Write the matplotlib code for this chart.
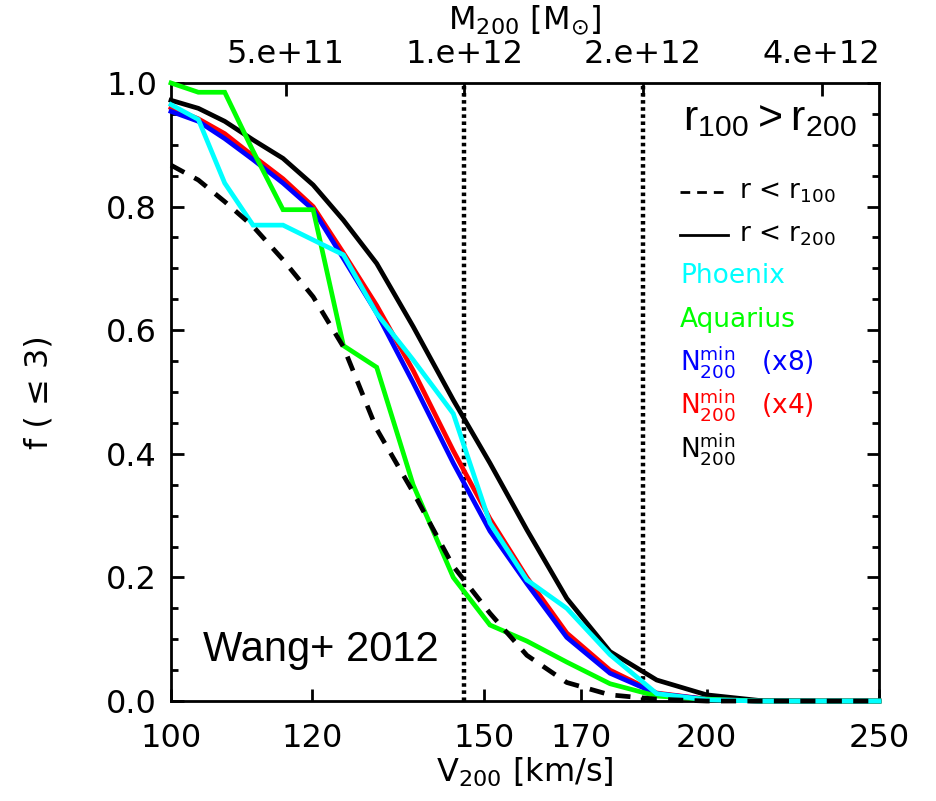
import matplotlib.pyplot as plt
import numpy as np
from matplotlib.ticker import NullLocator, FixedLocator

# V200 bins [km/s] and fractions
v200 = [100.0, 103.6, 107.2, 111.2, 115.6, 120.2, 125.0, 130.5, 136.8, 144.1,
        151.1, 158.5, 166.9, 176.5, 187.5, 200.0, 214.0, 230.0, 250.0]

f_r100 = [0.867, 0.843, 0.808, 0.768, 0.714, 0.654, 0.573, 0.440, 0.338, 0.218,
          0.142, 0.074, 0.030, 0.010, 0.003, 0.0, 0.0, 0.0, 0.0]
f_r200 = [0.972, 0.959, 0.938, 0.908, 0.878, 0.835, 0.778, 0.708, 0.606, 0.487,
          0.385, 0.277, 0.166, 0.080, 0.034, 0.010, 0.001, 0.0, 0.0]
f_x8 = [0.954, 0.938, 0.910, 0.876, 0.838, 0.795, 0.716, 0.628, 0.515, 0.385,
        0.275, 0.190, 0.103, 0.045, 0.012, 0.003, 0.0, 0.0, 0.0]
f_x4 = [0.960, 0.942, 0.918, 0.882, 0.845, 0.800, 0.725, 0.640, 0.535, 0.405,
        0.295, 0.200, 0.110, 0.050, 0.013, 0.003, 0.0, 0.0, 0.0]
f_phoenix = [0.965, 0.941, 0.838, 0.770, 0.770, 0.746, 0.722, 0.627, 0.552, 0.465,
             0.288, 0.196, 0.150, 0.075, 0.012, 0.002, 0.0, 0.0, 0.0]
f_aquarius = [1.0, 0.985, 0.985, 0.89, 0.795, 0.795, 0.575, 0.540, 0.350, 0.200,
              0.123, 0.097, 0.063, 0.028, 0.008, 0.003, 0.0, 0.0, 0.0]

v_ticks = [100, 120, 150, 170, 200, 250]
mass_ticks = [5e11, 1e12, 2e12, 4e12]
mass_labels = ['5.e+11', '1.e+12', '2.e+12', '4.e+12']
mass_lines = [1e12, 2e12]


def m2v(m):
    # M200 = V200^3 / (10 G H0)
    return 146.2 * (np.asarray(m) / 1e12) ** (1.0 / 3.0)


def main():
    fig = plt.figure(figsize=(9.37, 8.01), dpi=100)
    ax = fig.add_axes([0.1825, 0.1248, 0.7556, 0.7716])

    lw = 3.4
    kw = dict(lw=lw, zorder=3, clip_on=False, solid_joinstyle='miter')
    ax.plot(v200, f_r200, color='black', **kw)
    ax.plot(v200, f_x4, color='#ff0000', **kw)
    ax.plot(v200, f_x8, color='#0000ff', **kw)
    ax.plot(v200, f_aquarius, color='#00ff00', **kw)
    ax.plot(v200, f_phoenix, color='#00ffff', **kw)
    ax.plot(v200, f_r100, color='black', lw=lw, dashes=(3.2, 2.4), zorder=4, clip_on=False)

    for m in mass_lines:
        ax.axvline(m2v(m), color='black', lw=3.2, linestyle=(0, (0.8, 0.8)), zorder=2)

    ax.set_xscale('log')
    ax.set_xlim(100, 250)
    ax.set_ylim(0, 1)
    ax.xaxis.set_major_locator(FixedLocator(v_ticks))
    ax.xaxis.set_minor_locator(NullLocator())
    ax.set_xticklabels([str(v) for v in v_ticks])
    ax.set_yticks(np.arange(0, 1.01, 0.2))
    ax.set_yticklabels(['%.1f' % y for y in np.arange(0, 1.01, 0.2)])
    ax.yaxis.set_minor_locator(FixedLocator(np.arange(0, 1.001, 0.05)))

    ax.tick_params(which='both', direction='in', top=False, right=True, width=2)
    ax.tick_params(which='major', length=9, labelsize=23)
    ax.tick_params(which='minor', length=5)
    ax.tick_params(axis='x', pad=16)
    ax.tick_params(axis='y', pad=10)
    for s in ax.spines.values():
        s.set_linewidth(2)

    ax.set_xlabel(r'V$_{200}$ [km/s]', fontsize=23)
    ax.xaxis.set_label_coords(0.5, -0.088)
    ax.set_ylabel('f ( \u2264 3)', fontsize=23)
    ax.yaxis.set_label_coords(-0.165, 0.5)

    ax2 = ax.twiny()
    ax2.set_xscale('log')
    ax2.set_xlim(100, 250)
    ax2.xaxis.set_major_locator(FixedLocator(m2v(mass_ticks)))
    ax2.xaxis.set_minor_locator(NullLocator())
    ax2.set_xticklabels(mass_labels)
    ax2.tick_params(direction='in', length=9, width=2, labelsize=23, pad=9)
    ax2.set_xlabel(r'M$_{200}$ [M$_{\odot}$]', fontsize=23)
    ax2.xaxis.set_label_coords(0.5, 1.088)
    # the twin's frame would hide the curves lying on y = 0
    for s in ax2.spines.values():
        s.set_visible(False)

    # legend drawn by hand
    tr = ax.transAxes
    ax.plot([0.719, 0.787], [0.824, 0.824], color='black', lw=2, dashes=(3.5, 2.5), transform=tr)
    ax.plot([0.719, 0.787], [0.754, 0.754], color='black', lw=2, transform=tr)
    fs = 19
    ax.text(0.802, 0.824, r'r < r$_{100}$', fontsize=fs, va='center', transform=tr)
    ax.text(0.802, 0.754, r'r < r$_{200}$', fontsize=fs, va='center', transform=tr)
    ax.text(0.719, 0.688, 'Phoenix', fontsize=fs, color='#00ffff', va='center', transform=tr)
    ax.text(0.719, 0.617, 'Aquarius', fontsize=fs, color='#00ff00', va='center', transform=tr)
    ax.text(0.719, 0.549, r'N$_{200}^{\rm min}$   (x8)', fontsize=fs, color='#0000ff', va='center', transform=tr)
    ax.text(0.719, 0.479, r'N$_{200}^{\rm min}$   (x4)', fontsize=fs, color='#ff0000', va='center', transform=tr)
    ax.text(0.719, 0.408, r'N$_{200}^{\rm min}$', fontsize=fs, color='black', va='center', transform=tr)

    ax.text(0.846, 0.942, r'$\mathregular{r_{100}>r_{200}}$', fontsize=31, family='Liberation Sans',
            ha='center', va='center', transform=tr)
    ax.text(0.212, 0.0825, 'Wang+ 2012', fontsize=30, family='Liberation Sans',
            ha='center', va='center', transform=tr)

    fig.savefig('out.png', dpi=100)


if __name__ == '__main__':
    main()
